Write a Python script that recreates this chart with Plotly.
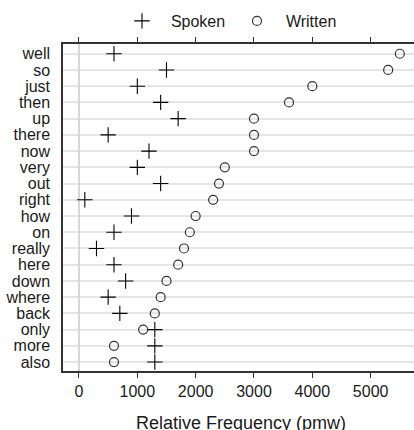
import plotly.graph_objects as go

words = ["well", "so", "just", "then", "up", "there", "now", "very", "out", "right",
         "how", "on", "really", "here", "down", "where", "back", "only", "more", "also"]
spoken = [600, 1500, 1000, 1400, 1700, 500, 1200, 1000, 1400, 100,
          900, 600, 300, 600, 800, 500, 700, 1300, 1300, 1300]
written = [5500, 5300, 4000, 3600, 3000, 3000, 3000, 2500, 2400, 2300,
           2000, 1900, 1800, 1700, 1500, 1400, 1300, 1100, 600, 600]
x_ticks = [0, 1000, 2000, 3000, 4000, 5000]

FONT = "Liberation Sans, Arial, sans-serif"
NB = "\u00a0\u00a0"

fig = go.Figure()
fig.add_trace(go.Scatter(
    x=spoken, y=words, mode="markers", name=NB + "Spoken",
    marker=dict(symbol="cross-thin", size=11, line=dict(color="black", width=1.1), color="black"),
))
fig.add_trace(go.Scatter(
    x=written, y=words, mode="markers", name=NB + "Written",
    marker=dict(symbol="circle-open", size=9, line=dict(color="#333333", width=1.2), color="#333333"),
))

W, H = 414, 430
L, T, B = 63, 44, 371
fig.update_layout(
    width=W, height=H,
    margin=dict(l=L, r=0, t=T, b=H - B),
    plot_bgcolor="white", paper_bgcolor="white",
    font=dict(family=FONT, size=16, color="#1a1a1a"),
    showlegend=True,
    legend=dict(orientation="h", x=(122 - L) / (W - L), xanchor="left",
                y=(T - 21) / (B - T) + 1, yanchor="middle",
                bgcolor="rgba(0,0,0,0)", font=dict(size=16), itemwidth=30,
                entrywidth=70, entrywidthmode="pixels", traceorder="normal"),
    xaxis=dict(range=[-274, 5743], tickvals=x_ticks, ticks="outside", ticklen=5,
               tickcolor="#333333", showline=True, linecolor="#333333", linewidth=1.5,
               mirror="ticks", showgrid=False, zeroline=True, zerolinecolor="#d6d6d6",
               zerolinewidth=1.5, tickfont=dict(size=16)),
    yaxis=dict(range=[19.55, -0.6], tickmode="array", tickvals=words, ticktext=words,
               showline=True, linecolor="#333333", linewidth=1.5,
               mirror=False, ticks="", showgrid=True, gridcolor="#e5e5e5", gridwidth=1.5,
               ticklabelstandoff=8, tickfont=dict(size=16)),
)
fig.add_annotation(text="Relative Frequency (pmw)", xref="paper", yref="paper",
                   x=(241 - L) / (W - L), y=-(423 - B) / (B - T), xanchor="center", yanchor="middle",
                   showarrow=False, font=dict(size=18, family=FONT, color="#1a1a1a"))

fig.write_html("out.html")
